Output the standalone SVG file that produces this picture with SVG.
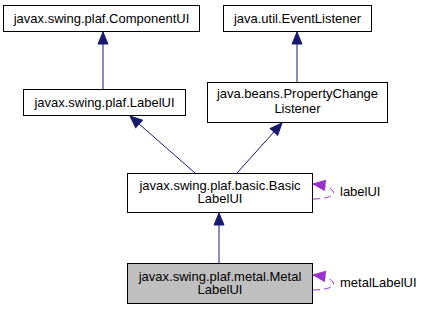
<svg xmlns="http://www.w3.org/2000/svg" width="421" height="309" viewBox="0 0 421 309">
  <style>
    .box { fill: #ffffff; stroke: #000000; stroke-width: 1; }
    .cur { fill: #bfbfbf; stroke: #000000; stroke-width: 1; }
    text { font-family: "Liberation Sans", Arial, sans-serif; font-size: 13px; fill: #000000; text-anchor: middle; }
    .lbl { text-anchor: start; }
    .inh { stroke: #191970; stroke-width: 1; fill: none; marker-end: url(#tri); }
    .use { stroke: #9a32cd; stroke-width: 1; fill: none; stroke-dasharray: 7,4; marker-end: url(#tri-p); }
  </style>
  <defs>
    <marker id="tri" markerUnits="userSpaceOnUse" markerWidth="14" markerHeight="12" viewBox="0 0 14 12" refX="13" refY="6" orient="auto">
      <path d="M1,1 L13,6 L1,11 Z" fill="#191970" stroke="#191970"/>
    </marker>
    <marker id="tri-p" markerUnits="userSpaceOnUse" markerWidth="14" markerHeight="12" viewBox="0 0 14 12" refX="13" refY="6" orient="auto">
      <path d="M1,1 L13,6 L1,11 Z" fill="#9a32cd" stroke="#9a32cd"/>
    </marker>
  </defs>

  <!-- inheritance arrows (navy) and member references (dashed purple) -->
  <g id="edges">
    <path class="inh" d="M103,89 L103,32"/>
    <path class="inh" d="M297,82 L297,32"/>
    <path class="inh" d="M195,173 L130,116"/>
    <path class="inh" d="M237,173 L282,123"/>
    <path class="inh" d="M219,263 L219,213"/>
    <path class="use" d="M313,199 C326,199 336,196 333,191 C330,187 322,185 313,184"/>
    <path class="use" d="M313,290 C326,290 336,287 333,282 C330,278 322,276 313,275"/>
    <text class="lbl" x="340" y="196">labelUI</text>
    <text class="lbl" x="340" y="287">metalLabelUI</text>
  </g>

  <g id="node-componentui">
    <rect class="box" x="3.5" y="5.5" width="196" height="26"/>
    <text x="101.5" y="23">javax.swing.plaf.ComponentUI</text>
  </g>
  <g id="node-labelui">
    <rect class="box" x="23.5" y="89.5" width="162" height="26"/>
    <text x="104.5" y="107">javax.swing.plaf.LabelUI</text>
  </g>
  <g id="node-eventlistener">
    <rect class="box" x="223.5" y="5.5" width="148" height="26"/>
    <text x="297.5" y="23">java.util.EventListener</text>
  </g>
  <g id="node-propertychangelistener">
    <rect class="box" x="207.5" y="82.5" width="180" height="40"/>
    <text x="297.5" y="98">java.beans.PropertyChange</text>
    <text x="297.5" y="112.5">Listener</text>
  </g>
  <g id="node-basiclabelui">
    <rect class="box" x="127.5" y="173.5" width="185" height="39"/>
    <text x="220" y="189.5">javax.swing.plaf.basic.Basic</text>
    <text x="220" y="203">LabelUI</text>
  </g>
  <g id="node-metallabelui">
    <rect class="cur" x="127.5" y="263.5" width="185" height="40"/>
    <text x="220" y="280.5">javax.swing.plaf.metal.Metal</text>
    <text x="220" y="294">LabelUI</text>
  </g>
</svg>
